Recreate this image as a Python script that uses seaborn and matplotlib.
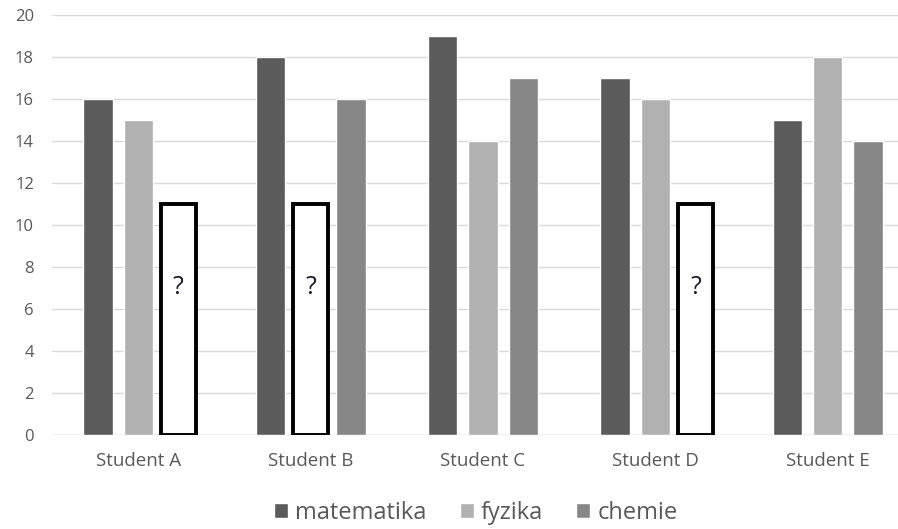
import seaborn as sns
import pandas as pd
import matplotlib.pyplot as plt

students = ['Student A', 'Student B', 'Student C', 'Student D', 'Student E']
subjects = ['matematika', 'fyzika', 'chemie']
matematika = [16, 18, 19, 17, 15]
fyzika = [15, 11, 14, 16, 18]
chemie = [11, 16, 17, 11, 14]
# unknown grades drawn as empty boxes with "?"  (subject index, student index)
unknown = [(2, 0), (1, 1), (2, 3)]

colors = {'matematika': '#5b5b5b', 'fyzika': '#b1b1b1', 'chemie': '#878787'}

rows = []
for subj, vals in zip(subjects, [matematika, fyzika, chemie]):
    for st, v in zip(students, vals):
        rows.append({'student': st, 'subject': subj, 'value': v})
df = pd.DataFrame(rows)

sns.set_style("white")
plt.rcParams['font.family'] = ['Open Sans', 'DejaVu Sans']

fig = plt.figure(figsize=(8.98, 5.29), dpi=100)
ax = fig.add_axes([52 / 898, 94 / 529, 862 / 898, 420 / 529])

sns.barplot(data=df, x='student', y='value', hue='subject', order=students,
            hue_order=subjects, palette=colors, width=0.7, gap=0.27,
            saturation=1, ax=ax)

for si, ci in unknown:
    bar = ax.containers[si][ci]
    w = bar.get_width()
    bar.set_x(bar.get_x() - w * 0.1)
    bar.set_width(w * 1.2)
    bar.set_facecolor('white')
    bar.set_edgecolor('black')
    bar.set_linewidth(2.8)
    bar.set_zorder(3)
    ax.text(bar.get_x() + bar.get_width() / 2, 7, '?', ha='center', va='center',
            fontsize=18, color='#1a1a2e', zorder=4)

ax.set_ylim(0, 20)
ax.set_yticks(range(0, 21, 2))
ax.grid(axis='y', color='#d9d9d9', linewidth=1)
ax.set_axisbelow(True)
for s in ax.spines.values():
    s.set_visible(False)
ax.axhline(0, color='#d9d9d9', linewidth=1, zorder=0)
ax.tick_params(axis='y', length=0, pad=13, labelsize=12, labelcolor='#595959')
ax.tick_params(axis='x', length=0, pad=12, labelsize=13.5, labelcolor='#595959')
ax.set_xlabel('')
ax.set_ylabel('')

handles, labels = ax.get_legend_handles_labels()
ax.get_legend().remove()
fig.legend(handles, labels, loc='center', bbox_to_anchor=(0.53, 0.03), ncol=3,
           frameon=False, fontsize=17, handlelength=0.6, handleheight=0.6,
           handletextpad=0.3, columnspacing=1.4, labelcolor='#595959')

fig.savefig('out.png', dpi=100)
